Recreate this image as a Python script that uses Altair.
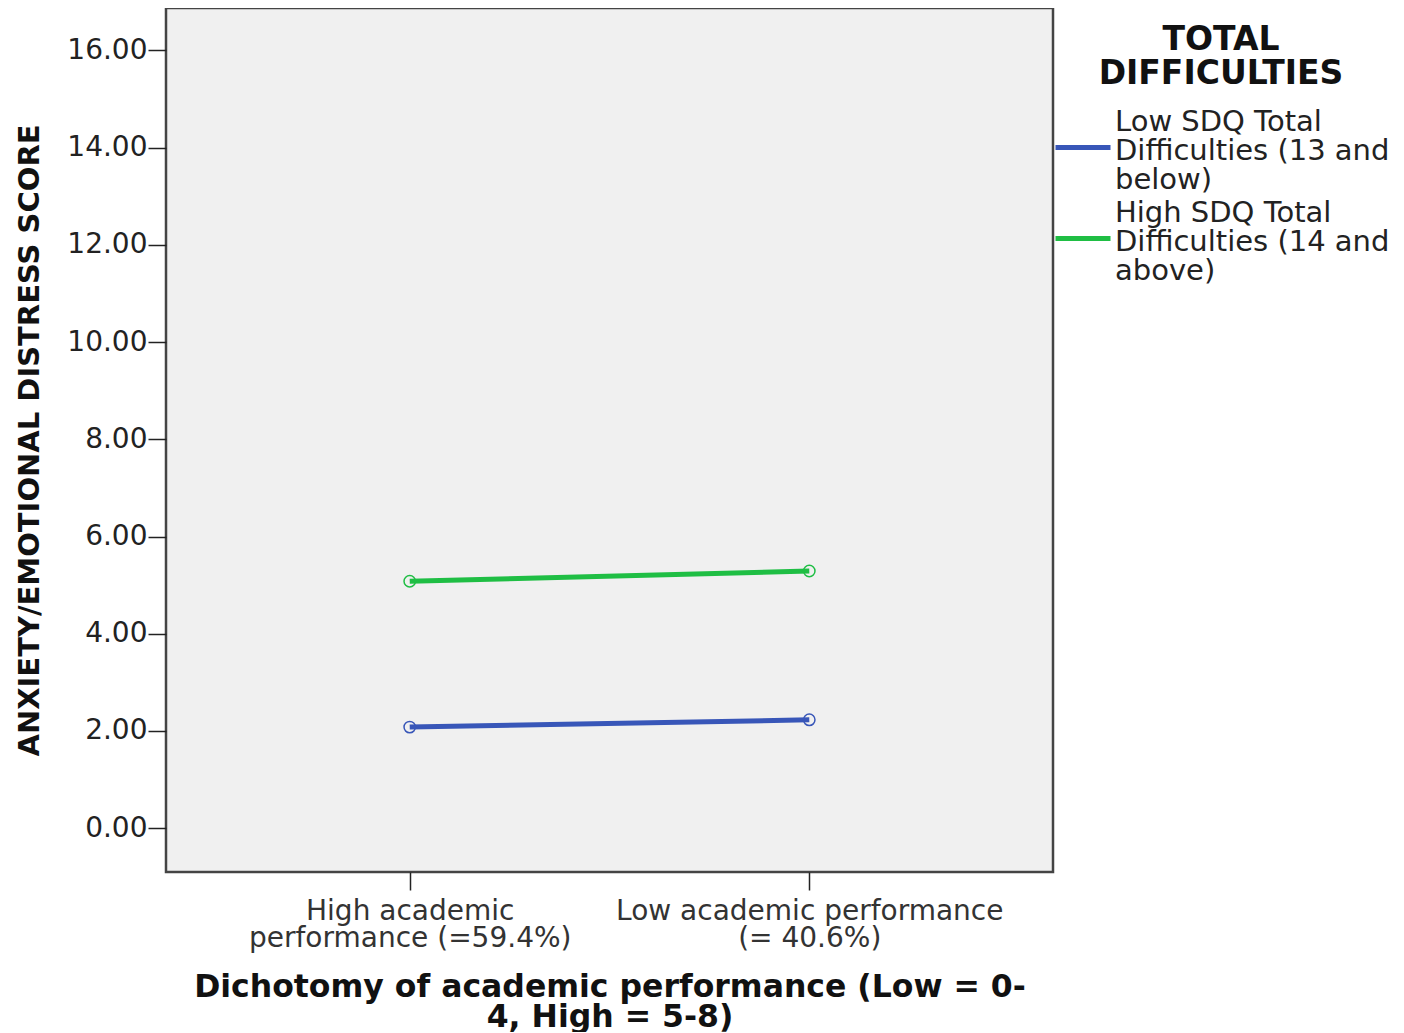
import altair as alt
import pandas as pd

categories = ["High academic\nperformance (=59.4%)", "Low academic performance\n(= 40.6%)"]
groups = ["Low SDQ Total\nDifficulties (13 and\nbelow)", "High SDQ Total\nDifficulties (14 and\nabove)"]
low_sdq = [2.08, 2.23]
high_sdq = [5.08, 5.29]
colors = ["#3856b8", "#1fbe44"]

FONT = "DejaVu Sans"

x = alt.X(
    "perf:N",
    sort=categories,
    scale=alt.Scale(type="point", padding=0.61),
    axis=alt.Axis(
        title=["Dichotomy of academic performance (Low = 0-", "4, High = 5-8)"],
        titleFont=FONT, titleFontSize=31.5, titleFontWeight="bold", titleColor="#111",
        titleLineHeight=30, titleY=99, titleBaseline="top", titleLimit=1200,
        labelExpr="split(datum.label, '\\n')",
        labelFont=FONT, labelFontSize=28, labelColor="#333", labelLineHeight=27,
        labelAngle=0, labelPadding=7, labelLimit=600,
        tickSize=18, tickColor="#222", tickWidth=1.5,
        domain=False, grid=False,
    ),
)
y = alt.Y(
    "score:Q",
    scale=alt.Scale(domain=[-0.9, 16.87], nice=False, zero=False),
    axis=alt.Axis(
        values=[0, 2, 4, 6, 8, 10, 12, 14, 16], format=".2f",
        title="ANXIETY/EMOTIONAL DISTRESS SCORE",
        titleFont=FONT, titleFontSize=29, titleFontWeight="bold", titleColor="#111",
        titleX=-122, titleAnchor="middle", titleLimit=1000,
        labelFont=FONT, labelFontSize=28, labelColor="#222", labelPadding=1,
        tickSize=18, tickColor="#222", tickWidth=1.5,
        domain=False, grid=False,
    ),
)

legend_common = dict(
    labelExpr="split(datum.label, '\\n')",
    labelFont=FONT, labelFontSize=29, labelColor="#222",
    labelOffset=2, labelLimit=500,
    symbolType="M-1,0.93H1", symbolSize=3025, symbolStrokeWidth=5,
    orient="none", legendX=887,
)


def group_layer(i, vals, legend):
    df = pd.DataFrame({"perf": categories, "sdq": [groups[i]] * len(categories), "score": vals})
    scale = alt.Scale(domain=[groups[i]], range=[colors[i]])
    line = alt.Chart(df).mark_line(strokeWidth=5).encode(
        x=x, y=y, color=alt.Color("sdq:N", scale=scale, legend=legend)
    )
    pts = alt.Chart(df).mark_point(filled=False, size=130, strokeWidth=1.5, opacity=1).encode(
        x=x, y=y, color=alt.Color("sdq:N", scale=scale, legend=None)
    )
    return alt.layer(line, pts)


legend_low = alt.Legend(
    title=["TOTAL", "DIFFICULTIES"],
    titleFont=FONT, titleFontSize=33, titleFontWeight="bold", titleColor="#111",
    titleAnchor="middle", titleAlign="center", titleLineHeight=34, titleLimit=600,
    titlePadding=1, legendY=16, **legend_common,
)
legend_high = alt.Legend(title=None, legendY=175, **legend_common)

chart = (
    alt.layer(group_layer(0, low_sdq, legend_low), group_layer(1, high_sdq, legend_high))
    .resolve_scale(color="independent")
    .properties(
        width=887, height=864,
        autosize=alt.AutoSizeParams(type="none"),
        padding={"left": 158, "top": 0, "right": 343, "bottom": 160},
    )
    .configure(
        background="white",
        style={"guide-label": {"lineHeight": 29}},
        view={"fill": "#f0f0f0", "stroke": "#444", "strokeWidth": 2.5},
    )
)

chart.save("out.html", embed_options={"renderer": "svg", "actions": False})
